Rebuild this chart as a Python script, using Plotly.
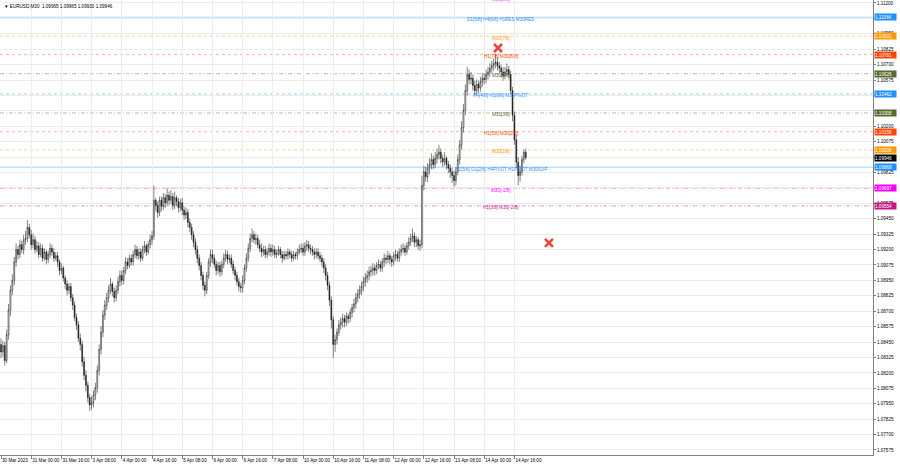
import plotly.graph_objects as go

# ---------------- data ----------------
title_text = "\u25bc EURUSD,M30  1.09965 1.09965 1.09930 1.09946"

first_open = 1.0843
close = [
    1.0837,1.0842,1.0830,1.0851,1.0871,1.0887,1.0895,1.0910,1.0920,1.0916,1.0924,1.0920,1.0928,1.0929,1.0938,1.0932,
    1.0924,1.0928,1.0920,1.0923,1.0916,1.0921,1.0913,1.0918,1.0912,1.0916,1.0921,1.0918,1.0913,1.0915,1.0910,1.0903,
    1.0905,1.0897,1.0892,1.0887,1.0890,1.0881,1.0875,1.0865,1.0859,1.0848,1.0843,1.0829,1.0818,1.0810,1.0800,1.0794,
    1.0796,1.0802,1.0808,1.0822,1.0839,1.0853,1.0867,1.0875,1.0881,1.0887,1.0892,1.0886,1.0881,1.0887,1.0894,1.0899,
    1.0895,1.0903,1.0910,1.0907,1.0913,1.0910,1.0916,1.0920,1.0915,1.0918,1.0913,1.0920,1.0923,1.0918,1.0924,1.0928,
    1.0931,1.0960,1.0956,1.0950,1.0960,1.0955,1.0962,1.0958,1.0964,1.0960,1.0963,1.0956,1.0962,1.0959,1.0954,1.0958,
    1.0952,1.0948,1.0950,1.0942,1.0938,1.0932,1.0926,1.0920,1.0913,1.0907,1.0899,1.0891,1.0887,1.0899,1.0910,1.0916,
    1.0913,1.0908,1.0903,1.0907,1.0902,1.0908,1.0913,1.0916,1.0912,1.0913,1.0908,1.0903,1.0899,1.0894,1.0890,1.0889,
    1.0895,1.0905,1.0913,1.0921,1.0929,1.0932,1.0928,1.0929,1.0924,1.0921,1.0918,1.0920,1.0916,1.0918,1.0921,1.0918,
    1.0920,1.0916,1.0917,1.0920,1.0916,1.0913,1.0916,1.0915,1.0918,1.0916,1.0913,1.0916,1.0915,1.0918,1.0920,1.0921,
    1.0918,1.0923,1.0924,1.0921,1.0920,1.0918,1.0916,1.0918,1.0915,1.0913,1.0910,1.0905,1.0899,1.0891,1.0879,1.0863,
    1.0843,1.0847,1.0853,1.0859,1.0861,1.0864,1.0861,1.0866,1.0864,1.0869,1.0873,1.0876,1.0881,1.0884,1.0887,1.0890,
    1.0894,1.0897,1.0899,1.0902,1.0903,1.0905,1.0903,1.0907,1.0908,1.0905,1.0910,1.0913,1.0912,1.0915,1.0912,1.0910,
    1.0915,1.0916,1.0913,1.0918,1.0920,1.0921,1.0918,1.0923,1.0926,1.0929,1.0931,1.0926,1.0928,1.0923,1.0924,1.0972,
    1.0983,1.0979,1.0986,1.0989,1.0993,1.0989,1.0994,1.0997,1.0999,1.0994,1.0991,1.0994,1.0989,1.0986,1.0983,1.0980,
    1.0976,1.0983,1.0993,1.1005,1.1019,1.1033,1.1049,1.1062,1.1058,1.1059,1.1053,1.1049,1.1054,1.1051,1.1056,1.1059,
    1.1058,1.1062,1.1064,1.1067,1.1069,1.1071,1.1072,1.1069,1.1067,1.1064,1.1061,1.1064,1.1066,1.1062,1.1049,1.1029,
    1.1009,1.0991,1.0980,1.0983,1.0993,1.0999,1.09946,
]
high = [
    1.0848,1.0846,1.0845,1.0855,1.0876,1.0891,1.0900,1.0914,1.0925,1.0923,1.0928,1.0927,1.0932,1.0935,1.0944,1.0941,
    1.0936,1.0933,1.0931,1.0927,1.0926,1.0925,1.0924,1.0921,1.0920,1.0919,1.0925,1.0924,1.0921,1.0918,1.0918,1.0912,
    1.0909,1.0907,1.0899,1.0895,1.0893,1.0893,1.0884,1.0878,1.0868,1.0862,1.0852,1.0846,1.0833,1.0822,1.0813,1.0803,
    1.0801,1.0806,1.0812,1.0826,1.0843,1.0858,1.0871,1.0879,1.0885,1.0891,1.0897,1.0894,1.0889,1.0891,1.0898,1.0903,
    1.0903,1.0906,1.0914,1.0913,1.0916,1.0916,1.0919,1.0924,1.0923,1.0921,1.0921,1.0923,1.0927,1.0925,1.0927,1.0932,
    1.0935,1.0972,1.0962,1.0959,1.0963,1.0963,1.0966,1.0965,1.0970,1.0967,1.0968,1.0966,1.0967,1.0964,1.0962,1.0961,
    1.0962,1.0955,1.0954,1.0953,1.0945,1.0941,1.0935,1.0929,1.0923,1.0916,1.0910,1.0902,1.0894,1.0902,1.0913,1.0920,
    1.0920,1.0916,1.0911,1.0910,1.0910,1.0911,1.0917,1.0920,1.0919,1.0916,1.0916,1.0911,1.0906,1.0902,1.0897,1.0893,
    1.0899,1.0908,1.0917,1.0925,1.0933,1.0937,1.0935,1.0933,1.0932,1.0928,1.0925,1.0923,1.0923,1.0921,1.0925,1.0924,
    1.0924,1.0923,1.0920,1.0923,1.0922,1.0919,1.0919,1.0919,1.0921,1.0920,1.0919,1.0919,1.0918,1.0921,1.0924,1.0925,
    1.0925,1.0926,1.0928,1.0927,1.0924,1.0923,1.0921,1.0921,1.0921,1.0918,1.0916,1.0913,1.0908,1.0902,1.0894,1.0882,
    1.0866,1.0851,1.0856,1.0863,1.0865,1.0868,1.0867,1.0869,1.0868,1.0872,1.0876,1.0880,1.0885,1.0888,1.0891,1.0894,
    1.0898,1.0901,1.0903,1.0906,1.0907,1.0909,1.0908,1.0910,1.0912,1.0911,1.0913,1.0917,1.0916,1.0919,1.0917,1.0915,
    1.0918,1.0920,1.0919,1.0921,1.0924,1.0925,1.0924,1.0926,1.0930,1.0933,1.0937,1.0934,1.0931,1.0930,1.0928,1.0980,
    1.0988,1.0987,1.0990,1.0994,1.0998,1.0996,1.0999,1.1002,1.1005,1.1002,1.0997,1.0999,1.0996,1.0992,1.0989,1.0986,
    1.0984,1.0987,1.0997,1.1009,1.1024,1.1038,1.1054,1.1068,1.1066,1.1064,1.1062,1.1057,1.1058,1.1057,1.1060,1.1063,
    1.1063,1.1066,1.1068,1.1071,1.1073,1.1075,1.1079,1.1076,1.1072,1.1070,1.1068,1.1068,1.1071,1.1069,1.1065,1.1052,
    1.1032,1.1013,1.0995,1.0988,1.0996,1.1001,1.1002,
]
low = [
    1.0832,1.0833,1.0826,1.0828,1.0847,1.0866,1.0883,1.0891,1.0906,1.0912,1.0913,1.0917,1.0916,1.0924,1.0926,1.0929,
    1.0920,1.0921,1.0917,1.0918,1.0913,1.0914,1.0910,1.0911,1.0908,1.0909,1.0913,1.0915,1.0910,1.0911,1.0906,1.0899,
    1.0900,1.0894,1.0888,1.0883,1.0884,1.0878,1.0871,1.0862,1.0855,1.0845,1.0838,1.0825,1.0814,1.0805,1.0796,1.0789,
    1.0790,1.0792,1.0798,1.0804,1.0818,1.0835,1.0849,1.0863,1.0871,1.0877,1.0884,1.0882,1.0877,1.0878,1.0884,1.0890,
    1.0891,1.0892,1.0900,1.0904,1.0905,1.0907,1.0907,1.0913,1.0912,1.0912,1.0910,1.0911,1.0917,1.0915,1.0916,1.0921,
    1.0924,1.0928,1.0951,1.0946,1.0947,1.0951,1.0952,1.0954,1.0955,1.0956,1.0957,1.0952,1.0953,1.0955,1.0950,1.0951,
    1.0948,1.0944,1.0945,1.0938,1.0934,1.0928,1.0922,1.0916,1.0909,1.0903,1.0895,1.0887,1.0882,1.0884,1.0896,1.0906,
    1.0909,1.0905,1.0899,1.0900,1.0898,1.0899,1.0905,1.0910,1.0908,1.0909,1.0905,1.0900,1.0895,1.0891,1.0886,1.0885,
    1.0885,1.0892,1.0902,1.0910,1.0918,1.0926,1.0925,1.0924,1.0921,1.0918,1.0914,1.0915,1.0913,1.0913,1.0915,1.0914,
    1.0915,1.0913,1.0913,1.0915,1.0913,1.0909,1.0911,1.0912,1.0912,1.0913,1.0910,1.0911,1.0912,1.0912,1.0916,1.0917,
    1.0915,1.0915,1.0919,1.0918,1.0916,1.0915,1.0912,1.0913,1.0912,1.0910,1.0906,1.0901,1.0895,1.0887,1.0874,1.0856,
    1.0832,1.0837,1.0843,1.0850,1.0855,1.0857,1.0857,1.0858,1.0860,1.0861,1.0865,1.0869,1.0872,1.0877,1.0880,1.0883,
    1.0886,1.0890,1.0893,1.0895,1.0898,1.0899,1.0899,1.0900,1.0904,1.0902,1.0902,1.0906,1.0908,1.0909,1.0908,1.0906,
    1.0907,1.0911,1.0910,1.0910,1.0915,1.0917,1.0915,1.0916,1.0920,1.0923,1.0926,1.0922,1.0922,1.0920,1.0919,1.0921,
    1.0968,1.0975,1.0975,1.0981,1.0985,1.0985,1.0986,1.0990,1.0993,1.0990,1.0987,1.0988,1.0985,1.0982,1.0978,1.0974,
    1.0971,1.0972,1.0980,1.0989,1.1001,1.1015,1.1029,1.1045,1.1054,1.1054,1.1049,1.1045,1.1046,1.1047,1.1048,1.1052,
    1.1054,1.1055,1.1058,1.1060,1.1063,1.1065,1.1067,1.1065,1.1063,1.1060,1.1057,1.1058,1.1061,1.1058,1.1046,1.1024,
    1.1005,1.0986,1.0972,1.0975,1.0980,1.0990,1.0993,
]
open_ = [first_open] + close[:-1]
bar_index = list(range(len(close)))

time_labels = ["30 Mar 2023", "31 Mar 00:00", "31 Mar 16:00", "3 Apr 08:00", "4 Apr 00:00",
               "4 Apr 16:00", "5 Apr 08:00", "6 Apr 00:00", "6 Apr 16:00", "7 Apr 08:00",
               "10 Apr 00:00", "10 Apr 16:00", "11 Apr 08:00", "12 Apr 00:00", "12 Apr 16:00",
               "13 Apr 08:00", "14 Apr 00:00", "14 Apr 16:00"]
time_label_bars = [0, 16, 32, 48, 64, 80, 96, 112, 128, 144, 160, 176, 192, 208, 224, 240, 256, 272]

# price-scale ticks (grid) and the ones whose labels are hidden under the level boxes
price_ticks = [1.07575, 1.07700, 1.07825, 1.07950, 1.08075, 1.08200, 1.08325, 1.08450, 1.08575,
               1.08700, 1.08825, 1.08950, 1.09075, 1.09200, 1.09325, 1.09450, 1.09575, 1.09700,
               1.09825, 1.09950, 1.10075, 1.10200, 1.10325, 1.10450, 1.10575, 1.10700, 1.10825,
               1.10950, 1.11075, 1.11200]
hidden_tick_labels = [1.11075, 1.10450, 1.10325, 1.09950, 1.09700]

level_prices = [1.11084, 1.10931, 1.10781, 1.10626, 1.10462, 1.10308, 1.10156, 1.10008,
                1.09868, 1.09697, 1.09554]
level_texts = ["D1[5/8] H4[6/8] H1RES M30RES", "M30[7/8]", "H1[7/8] M30[6/8]", "M30[5/8]",
               "H4[4/8] H1[6/8] M30PIVOT", "M30[3/8]", "H1[5/8] M30[2/8]", "M30[1/8]",
               "H1[5/8] D1[2/8] H4PIVOT H1PIVOT M30SUP", "M30[-1/8]", "H1[3/8] M30[-2/8]"]
level_colors = ["#1e90ff", "#ff9900", "#ff4500", "#556b2f", "#1e90ff", "#556b2f", "#ff4500",
                "#ff9900", "#1e90ff", "#ff00ff", "#c71585"]
level_line_colors = ["#b3dafe", "#ffcf99", "#ffb3a0", "#bcbfa3", "#9fd0ff", "#bcbfa3", "#ffb3a0",
                     "#ffcf99", "#9fd0ff", "#ff9cff", "#e89cc8"]
level_dashes = ["solid", "3px,3px", "3px,3px", "4px,2px,1px,2px", "3px,3px", "4px,2px,1px,2px",
                "3px,3px", "3px,3px", "solid", "4px,2px,1px,2px", "4px,2px,1px,2px"]

last_price = 1.09946

cross_bars = [263.3, 290.3]
cross_prices = [1.10835, 1.09254]

# ---------------- figure ----------------
FONT = "Liberation Sans"
FS = 4.6
fig = go.Figure()

fig.add_trace(go.Candlestick(
    x=bar_index, open=open_, high=high, low=low, close=close,
    increasing=dict(line=dict(color="#1a1a1a", width=0.55), fillcolor="#ffffff"),
    decreasing=dict(line=dict(color="#1a1a1a", width=0.55), fillcolor="#1a1a1a"),
    whiskerwidth=0, showlegend=False, hoverinfo="skip",
))

fig.add_trace(go.Scatter(
    x=cross_bars, y=cross_prices, mode="markers",
    marker=dict(symbol="x-thin", size=8, line=dict(width=2.6, color="#e8453c")),
    showlegend=False, hoverinfo="skip",
))

shapes = []
annotations = []
for p, txt, c, lc, d in zip(level_prices, level_texts, level_colors, level_line_colors, level_dashes):
    shapes.append(dict(type="line", xref="paper", x0=0, x1=1, yref="y", y0=p, y1=p,
                       line=dict(color=lc, width=1, dash=d), layer="below"))
    annotations.append(dict(xref="paper", x=501 / 873, yref="y", y=p, yshift=-2,
                            text=txt, showarrow=False, xanchor="center", yanchor="middle",
                            font=dict(family=FONT, size=FS, color=c)))
    annotations.append(dict(xref="paper", x=1, xanchor="left", xshift=1, yref="y", y=p,
                            yanchor="middle", text="%.5f" % p, showarrow=False,
                            bgcolor=c, font=dict(family=FONT, size=FS, color="#ffffff"),
                            borderpad=0, width=21, height=6, align="left"))

# last price line + box
shapes.append(dict(type="line", xref="paper", x0=0, x1=1, yref="y", y0=last_price, y1=last_price,
                   line=dict(color="#d0d0d0", width=1), layer="below"))
annotations.append(dict(xref="paper", x=1, xanchor="left", xshift=1, yref="y", y=last_price,
                        yanchor="middle", text="%.5f" % last_price, showarrow=False,
                        bgcolor="#000000", font=dict(family=FONT, size=FS, color="#ffffff"),
                        borderpad=0, width=21, height=6, align="left"))

# chart caption
annotations.append(dict(xref="paper", x=0, xshift=2, xanchor="left", yref="paper", y=1,
                        yshift=-2, yanchor="top", text=title_text, showarrow=False,
                        font=dict(family=FONT, size=FS, color="#000000")))
# partially visible top level text (cut by the top edge, as in the original)
annotations.append(dict(xref="paper", x=501 / 873, yref="paper", y=1, yshift=1,
                        yanchor="middle", xanchor="center", text="M30[8/8]", showarrow=False,
                        font=dict(family=FONT, size=FS, color="#cc55ee")))

fig.update_layout(
    width=900, height=468,
    margin=dict(l=0, r=27, t=0, b=13, autoexpand=False),
    paper_bgcolor="#ffffff", plot_bgcolor="#ffffff",
    shapes=shapes, annotations=annotations,
    font=dict(family=FONT, size=FS, color="#000000"),
    xaxis=dict(
        range=[-0.53, 461.97], rangeslider=dict(visible=False),
        tickmode="array", tickvals=time_label_bars, ticktext=time_labels,
        ticklabelposition="outside right", tickangle=0, automargin=False,
        showgrid=True, gridcolor="#ececec", gridwidth=1,
        showline=True, linecolor="#808080", linewidth=1, mirror=False,
        ticks="outside", ticklen=3, tickcolor="#808080",
        tickfont=dict(family=FONT, size=FS, color="#000000"),
        zeroline=False, fixedrange=True,
    ),
    yaxis=dict(
        side="right", range=[1.07534, 1.11224], automargin=False,
        tickmode="array", tickvals=price_ticks,
        ticktext=["" if v in hidden_tick_labels else "%.5f" % v for v in price_ticks],
        showgrid=True, gridcolor="#ececec", gridwidth=1,
        showline=True, linecolor="#808080", linewidth=1,
        ticks="outside", ticklen=2, tickcolor="#808080",
        tickfont=dict(family=FONT, size=FS, color="#000000"),
        zeroline=False, fixedrange=True,
    ),
)

fig.write_html(
    "out.html",
    config={"displayModeBar": False},
    post_script="document.body.style.margin='0';document.body.style.overflow='hidden';",
)
